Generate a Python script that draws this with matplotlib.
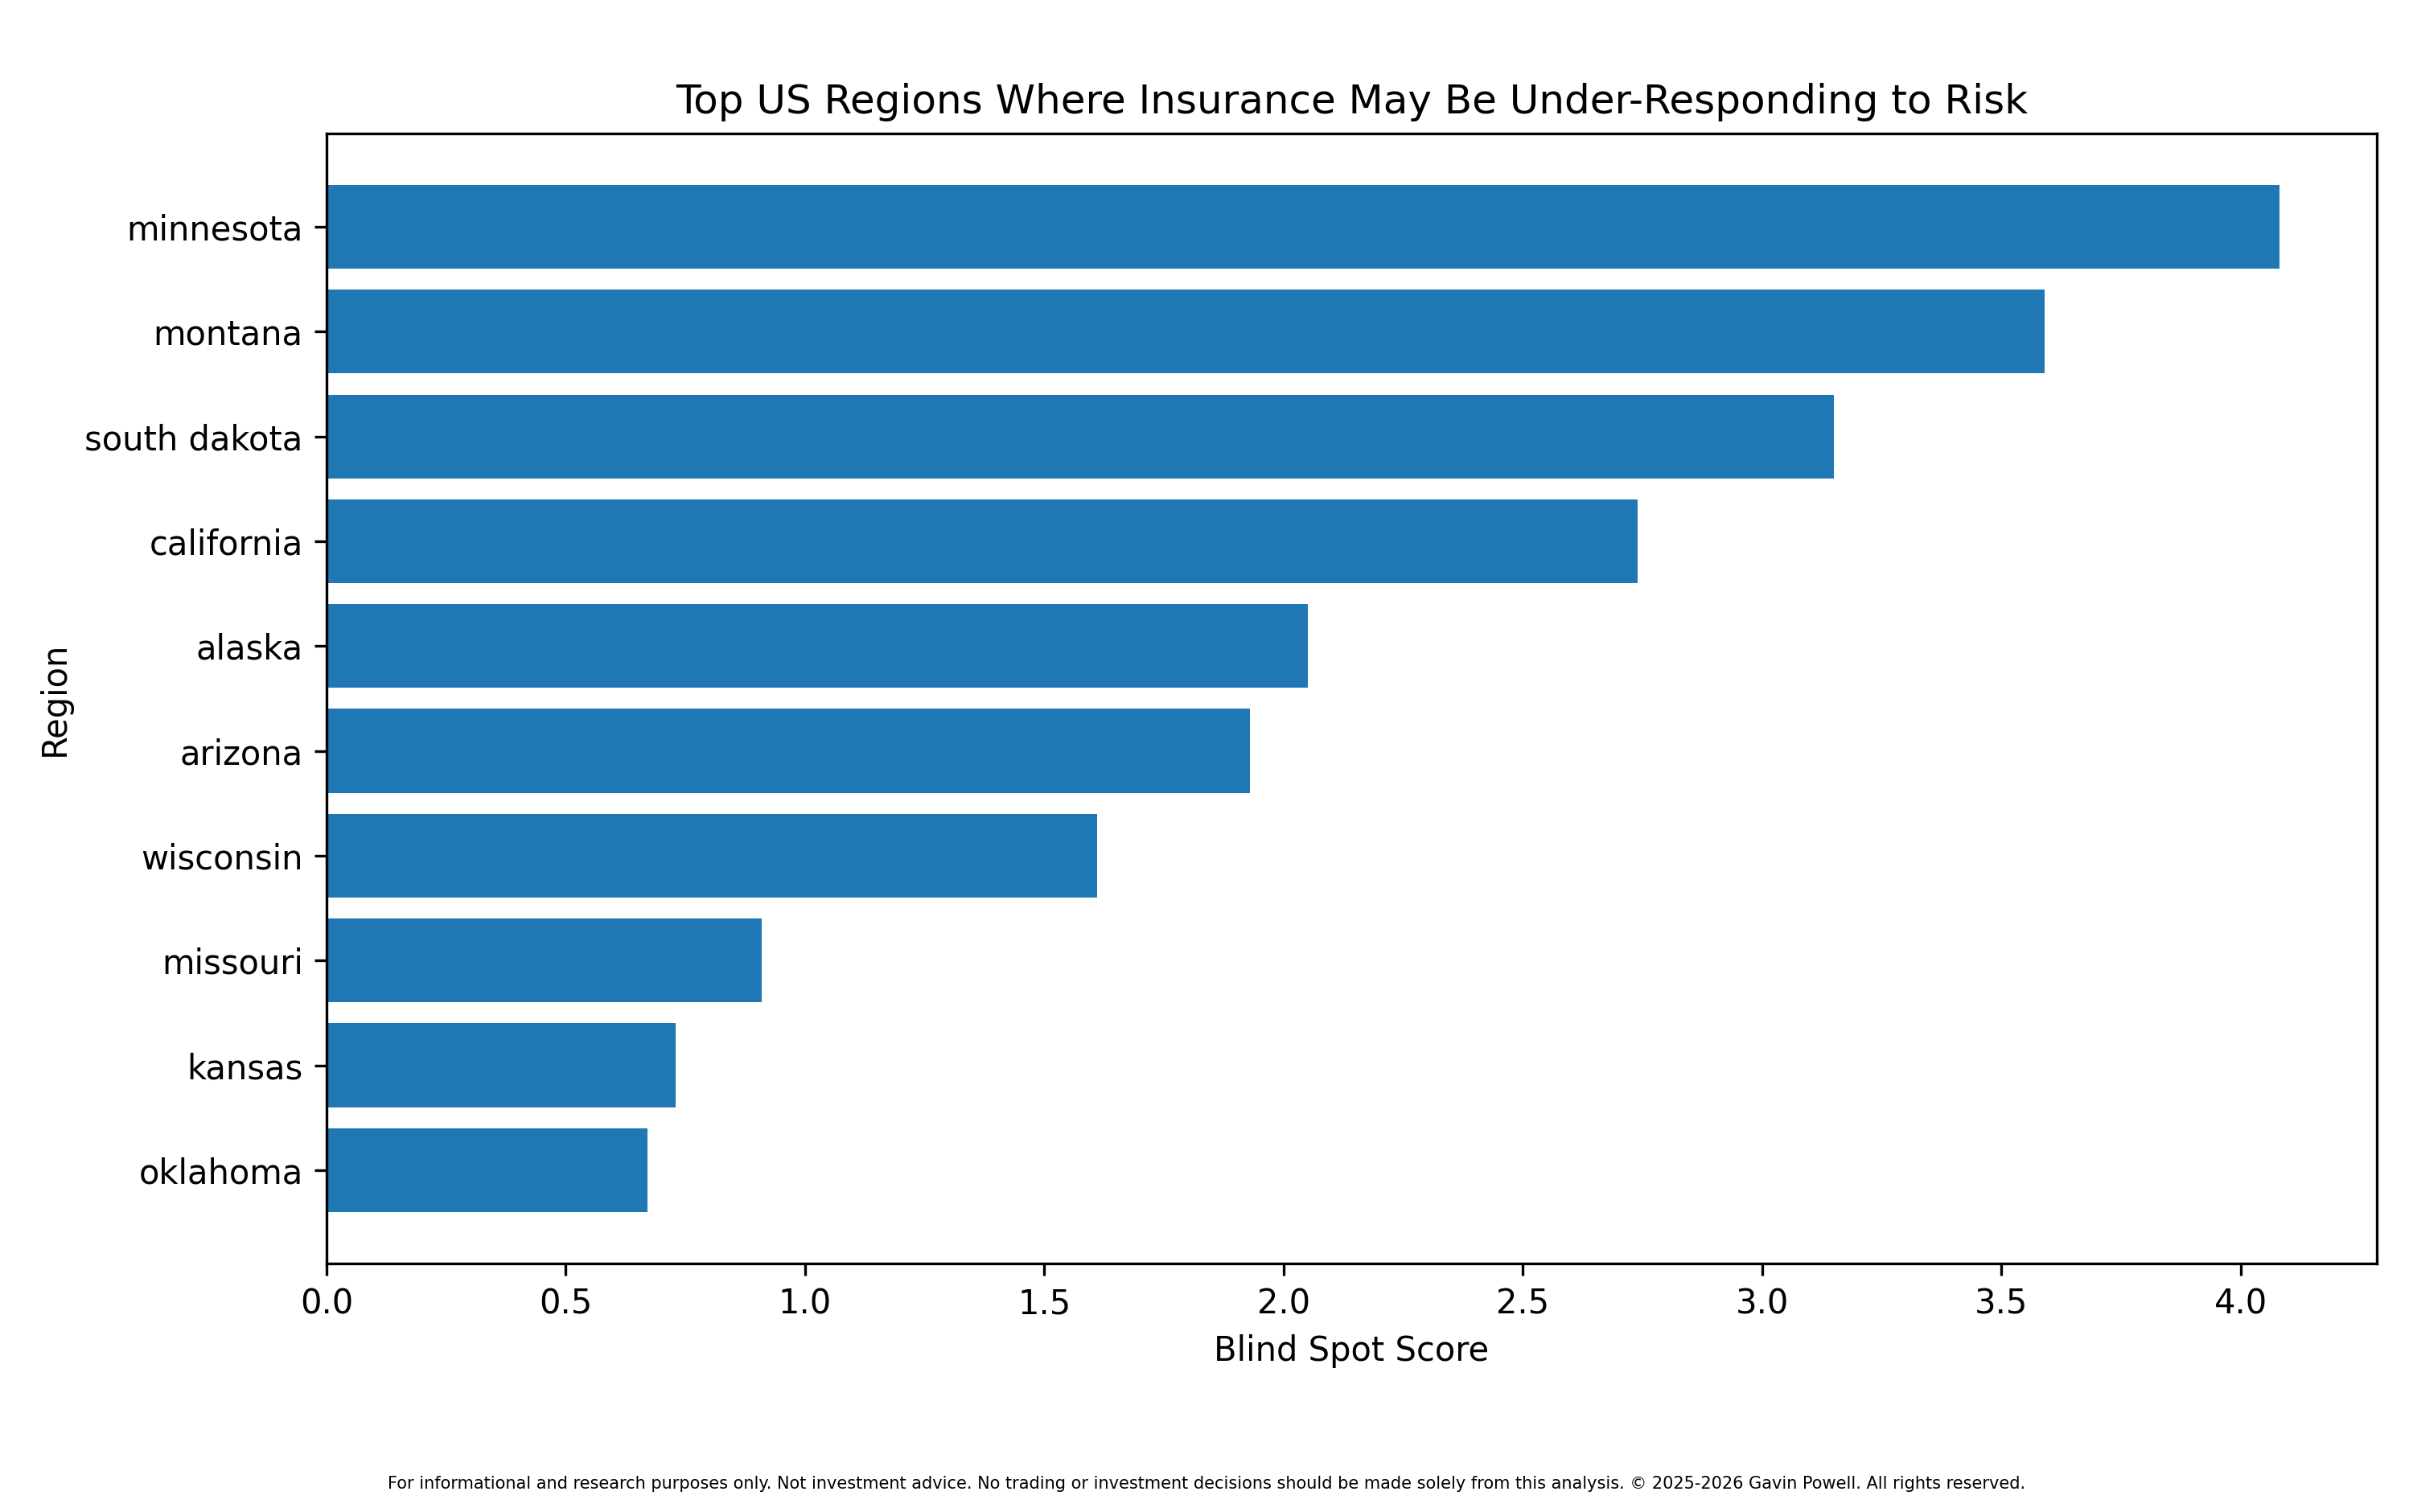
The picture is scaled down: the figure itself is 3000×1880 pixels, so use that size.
import matplotlib
matplotlib.use("Agg")
import matplotlib.pyplot as plt

regions = ["minnesota", "montana", "south dakota", "california", "alaska",
           "arizona", "wisconsin", "missouri", "kansas", "oklahoma"]
scores = [4.08, 3.59, 3.15, 2.74, 2.05, 1.93, 1.61, 0.91, 0.73, 0.67]

title = "Top US Regions Where Insurance May Be Under-Responding to Risk"
xlabel = "Blind Spot Score"
ylabel = "Region"
footnote = ("For informational and research purposes only. Not investment advice. "
            "No trading or investment decisions should be made solely from this analysis. "
            "\u00a9 2025-2026 Gavin Powell. All rights reserved.")

fig = plt.figure(figsize=(10, 6.2667), dpi=300)
ax = fig.add_axes([0.1353, 0.1644, 0.985 - 0.1353, 0.9117 - 0.1644])
ax.barh(regions[::-1], scores[::-1], color="#1f77b4")
ax.set_title(title)
ax.set_xlabel(xlabel)
ax.set_ylabel(ylabel)
fig.text(0.5, 0.0155, footnote, ha="center", fontsize=5)
fig.savefig("out.png", dpi=300)
